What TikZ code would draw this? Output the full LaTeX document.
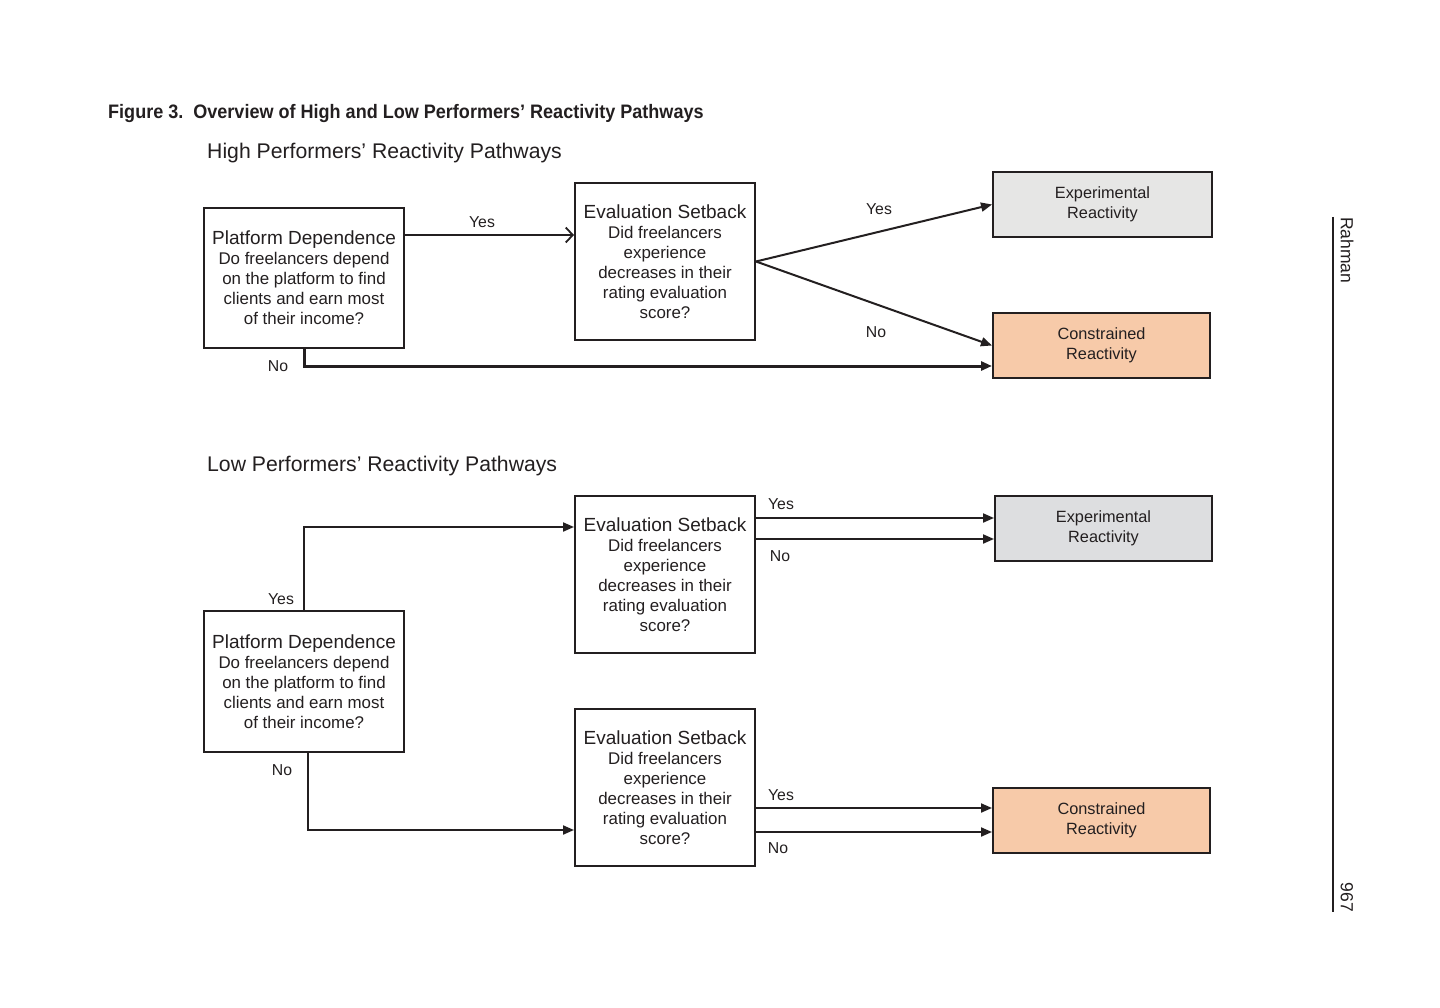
\documentclass[tikz,border=0pt]{standalone}
\usepackage{fontspec}
\setmainfont{Liberation Sans}
\newfontfamily\condbold[FakeStretch=0.925]{Liberation Sans Bold}
\usetikzlibrary{arrows.meta}
\definecolor{ink}{HTML}{231F20}
\definecolor{grayA}{HTML}{E6E6E5}
\definecolor{grayB}{HTML}{DDDEE0}
\definecolor{peach}{HTML}{F7CAA9}
\tikzset{
  box/.style={draw=ink, line width=2pt, align=center, inner sep=0pt, text=ink,
    font=\fontsize{16.9}{20}\selectfont},
  pdbox/.style={box, minimum width=200pt, minimum height=140pt},
  esbox/.style={box, minimum width=180pt, minimum height=157pt},
  outbox/.style={box, minimum width=217pt, minimum height=65pt, font=\fontsize{16.3}{20}\selectfont},
  conn/.style={draw=ink, line width=2pt, -{Triangle[length=11pt,width=9pt]}},
  openconn/.style={draw=ink, line width=2pt, -{Straight Barb[length=7pt,width=15pt,line width=1.8pt]}},
  lbl/.style={text=ink, inner sep=0pt, font=\fontsize{15.8}{18}\selectfont},
  sect/.style={text=ink, inner sep=0pt, anchor=west, font=\fontsize{21.2}{24}\selectfont},
  side/.style={text=ink, inner sep=0pt, rotate=-90, font=\fontsize{17.5}{20}\selectfont},
}
\newcommand{\hd}[1]{{\fontsize{19}{20}\selectfont #1}}
\begin{document}
\begin{tikzpicture}[x=1pt,y=-1pt]
\useasboundingbox[fill=white] (0,0) rectangle (1440,1008);

% titles
\node[text=ink, inner sep=0pt, anchor=west, font=\condbold\fontsize{19.5}{22}\selectfont] (title) at (108,113.5)
  {Figure 3.\ \ Overview of High and Low Performers’ Reactivity Pathways};
\node[sect] (hightitle) at (207,153) {High Performers’ Reactivity Pathways};
\node[sect] (lowtitle) at (207,466) {Low Performers’ Reactivity Pathways};

% top section boxes
\node[pdbox] (PD1) at (304,278) {\hd{Platform Dependence}\\Do freelancers depend\\on the platform to find\\clients and earn most\\of their income?};
\node[esbox] (ES1) at (665,261.5) {\hd{Evaluation Setback}\\Did freelancers\\experience\\decreases in their\\rating evaluation\\score?};
\node[outbox, fill=grayA, minimum width=219pt] (ER1) at (1102.5,204.5) {Experimental\\Reactivity};
\node[outbox, fill=peach] (CR1) at (1101.5,345.5) {Constrained\\Reactivity};

% bottom section boxes
\node[pdbox, minimum height=141pt] (PD2) at (304,681.5) {\hd{Platform Dependence}\\Do freelancers depend\\on the platform to find\\clients and earn most\\of their income?};
\node[esbox] (ES2) at (665,574.5) {\hd{Evaluation Setback}\\Did freelancers\\experience\\decreases in their\\rating evaluation\\score?};
\node[esbox] (ES3) at (665,787.5) {\hd{Evaluation Setback}\\Did freelancers\\experience\\decreases in their\\rating evaluation\\score?};
\node[outbox, fill=grayB] (ER2) at (1103.5,528.5) {Experimental\\Reactivity};
\node[outbox, fill=peach] (CR2) at (1101.5,820.5) {Constrained\\Reactivity};

% helper rows
\coordinate (h1) at (0,235);
\coordinate (h2) at (0,366);
\coordinate (h3) at (0,527);
\coordinate (h4) at (0,830);
\coordinate (h5) at (0,518);
\coordinate (h6) at (0,539);
\coordinate (h7) at (0,808);
\coordinate (h8) at (0,832);

% top connectors
\draw[openconn] (PD1.east |- h1) -- (ES1.west |- h1);
\draw[conn] (ES1.east) -- (ER1.west);
\draw[conn] (ES1.east) -- (CR1.west);
\draw[conn, line width=3pt] (PD1.south) |- (CR1.west |- h2);

% bottom connectors
\draw[conn] (PD2.north) |- (ES2.west |- h3);
\draw[conn] ([xshift=4pt]PD2.south) |- (ES3.west |- h4);
\draw[conn] (ES2.east |- h5) -- (ER2.west |- h5);
\draw[conn] (ES2.east |- h6) -- (ER2.west |- h6);
\draw[conn] (ES3.east |- h7) -- (CR2.west |- h7);
\draw[conn] (ES3.east |- h8) -- (CR2.west |- h8);

% labels
\node[lbl] (l1) at (482,222) {Yes};
\node[lbl] (l2) at (879,209) {Yes};
\node[lbl] (l3) at (876,332) {No};
\node[lbl] (l4) at (278,366) {No};
\node[lbl] (l5) at (281,599) {Yes};
\node[lbl] (l6) at (282,770) {No};
\node[lbl] (l7) at (781,504) {Yes};
\node[lbl] (l8) at (780,556) {No};
\node[lbl] (l9) at (781,795) {Yes};
\node[lbl] (l10) at (778,848) {No};

% side running head
\coordinate (s1) at (1333,217);
\coordinate (s2) at (1333,912);
\draw[ink, line width=1.2pt] (s1) -- (s2);
\node[side, anchor=west] (rahman) at (1347,217) {Rahman};
\node[side, anchor=east] (page) at (1347,912) {967};
\end{tikzpicture}
\end{document}
